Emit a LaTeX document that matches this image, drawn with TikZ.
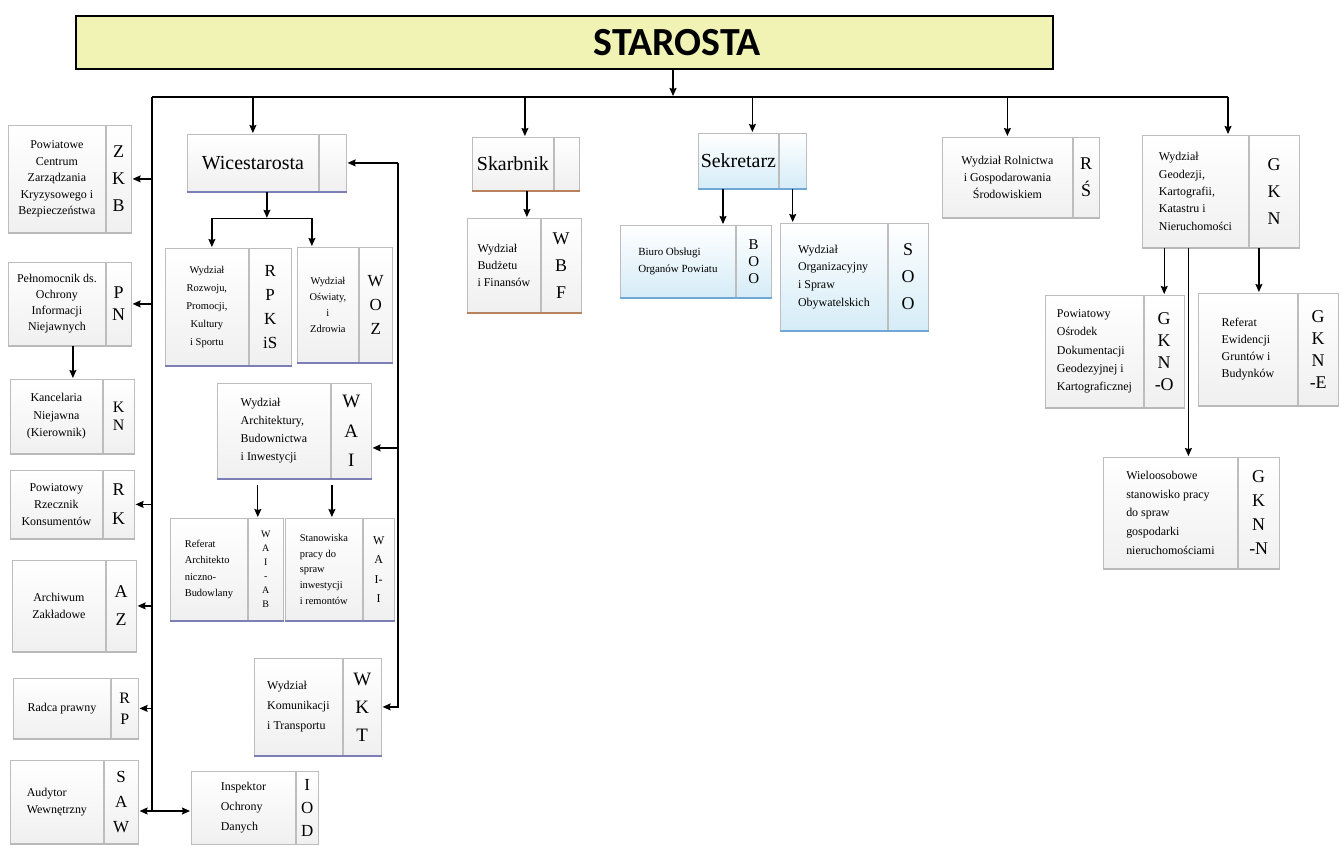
\documentclass[tikz,border=0pt]{standalone}
\usepackage{fontspec}
\setmainfont{Liberation Serif}
\newfontfamily\headfont{Carlito}
\usetikzlibrary{arrows.meta,calc}
\definecolor{starFill}{HTML}{F1F3B4}
\definecolor{lavEdge}{HTML}{7B7FB5}
\definecolor{brnEdge}{HTML}{B8825C}
\definecolor{skyEdge}{HTML}{6FA8D6}
\definecolor{skyFill}{HTML}{D5ECF7}
\definecolor{boxLine}{HTML}{BDBDBD}
% name, top-left, text width, code width, height, text, code, text style, code style
\newcommand{\obox}[9]{%
\node[ubox, anchor=north west, minimum width=#3bp, minimum height=#5bp, #8] (#1) at (#2) {#6};%
\node[ubox, anchor=north west, minimum width=#4bp, minimum height=#5bp, align=center, #9] (#1-a) at (#1.north east) {#7};%
}

\begin{document}
\begin{tikzpicture}[x=1bp, y=-1bp,
  fs/.style args={#1/#2}{font=\fontsize{#1}{#2}\selectfont},
  ubox/.style={draw=boxLine, line width=0.8bp, top color=white, bottom color=gray!12, inner sep=2bp, text=black},
  edgeln/.style={append after command={(\tikzlastnode.south west) edge[draw=#1, line width=1.8bp] (\tikzlastnode.south east)}},
  neu/.style={edgeln=gray!55},
  lav/.style={edgeln=lavEdge},
  brn/.style={edgeln=brnEdge},
  sky/.style={bottom color=skyFill, edgeln=skyEdge},
  line/.style={line width=1.2bp},
  arr/.style={line, -{Stealth[length=8bp, width=7bp, inset=1bp]}, shorten >=1bp},
  bus/.style={line width=2.2bp}]
\useasboundingbox (0,0) rectangle (1343,845);
\fill[white] (0,0) rectangle (1343,845);

% head
\node[draw=black, line width=1.5bp, fill=starFill, anchor=north west, minimum width=977bp, minimum height=53bp,
  label={[font=\headfont\bfseries\fontsize{40}{44}\selectfont, xshift=113bp]center:STAROSTA}] (starosta) at (75,15) {};

% left column
\obox{zkb}{8,125}{97}{25}{107}{Powiatowe\\Centrum\\Zarządzania\\Kryzysowego i\\Bezpieczeństwa}{Z\\K\\B}{fs=12/16.5, align=center, neu}{fs=18/27, neu}
\obox{pn}{8,262}{97}{25}{83}{Pełnomocnik ds.\\Ochrony\\Informacji\\Niejawnych}{P\\N}{fs=12/16, align=center, neu}{fs=18/22, neu}
\obox{kn}{10,379}{92}{31}{74}{Kancelaria\\Niejawna\\(Kierownik)}{K\\N}{fs=12/17.5, align=center, neu}{fs=16/18, neu}
\obox{rk}{10,470}{92}{31}{68}{Powiatowy\\Rzecznik\\Konsumentów}{R\\K}{fs=12/17, align=center, neu}{fs=18/29, neu}
\obox{az}{12,560}{93}{30}{91}{Archiwum\\Zakładowe}{A\\Z}{fs=12/17, align=center, neu}{fs=18/28, neu}
\obox{rp}{13,678}{97}{27}{60}{Radca prawny}{R\\P}{fs=12/17, align=center, neu}{fs=16/21, neu}
\obox{saw}{10,760}{93}{34}{83}{Audytor\\Wewnętrzny}{S\\A\\W}{fs=12/17, align=left, neu}{fs=17/25, neu}
\obox{iod}{191,771}{104}{22}{73}{Inspektor\\Ochrony\\Danych}{I\\O\\D}{fs=12/20, align=left}{fs=17/23}

% Wicestarosta
\obox{wice}{187,134}{131}{27}{57}{Wicestarosta}{}{fs=20/24, lav}{lav}
\obox{rpk}{165,248}{83}{42}{117}{Wydział\\Rozwoju,\\Promocji,\\Kultury\\i Sportu}{R\\P\\K\\iS}{fs=10.5/18, align=center, lav}{fs=17/24, lav}
\obox{woz}{297,247}{61}{33}{115}{Wydział\\Oświaty,\\i\\Zdrowia}{W\\O\\Z}{fs=10.5/16, align=center, lav}{fs=17/24, lav}
\obox{wai}{217,383}{113}{40}{95}{Wydział\\Architektury,\\Budownictwa\\i Inwestycji}{W\\A\\I}{fs=12/18, align=left, lav}{fs=19/30, lav}
\obox{waiab}{170,518}{77}{35}{102}{Referat\\Architekto\\niczno-\\Budowlany}{W\\A\\I\\-\\A\\B}{fs=10.5/16.5, align=left, lav}{fs=10/14, lav}
\obox{waii}{285,518}{77}{31}{102}{Stanowiska\\pracy do\\spraw\\inwestycji\\i remontów}{W\\A\\I-\\I}{fs=10.5/16, align=left, lav}{fs=12/19.5, lav}
\obox{wkt}{254,658}{88}{38}{97}{Wydział\\Komunikacji\\i Transportu}{W\\K\\T}{fs=12/20, align=left, lav}{fs=19/28, lav}

% Skarbnik, Sekretarz
\obox{skarb}{472,137}{81}{25}{53}{Skarbnik}{}{fs=20/24, brn}{brn}
\obox{wbf}{467,218}{73}{40}{94}{Wydział\\Budżetu\\i Finansów}{W\\B\\F}{fs=12/17, align=left, brn}{fs=18/27, brn}
\obox{sek}{698,133}{80}{27}{55}{Sekretarz}{}{fs=20/24, sky}{sky}
\obox{boo}{620,225}{115}{35}{72}{Biuro Obsługi\\Organów Powiatu}{B\\O\\O}{fs=11/17, align=left, sky}{fs=15/17, sky}
\obox{soo}{780,223}{107}{40}{107}{Wydział\\Organizacyjny\\i Spraw\\Obywatelskich}{S\\O\\O}{fs=12/17.7, align=left, sky}{fs=18/27, sky}

% right side
\obox{rol}{942,137}{130}{26}{80}{Wydział Rolnictwa\\i Gospodarowania\\Środowiskiem}{R\\Ś}{fs=12/17, align=center, neu}{fs=18/27, neu}
\obox{gkn}{1142,135}{106}{50}{112}{Wydział\\Geodezji,\\Kartografii,\\Katastru i\\Nieruchomości}{G\\K\\N}{fs=12/17.5, align=left, neu}{fs=18/27, neu}
\obox{gkno}{1045,295}{98}{40}{112}{Powiatowy\\Ośrodek\\Dokumentacji\\Geodezyjnej i\\Kartograficznej}{G\\K\\N\\-O}{fs=12/18.3, align=left, neu}{fs=18/22, neu}
\obox{gkne}{1198,293}{99}{40}{112}{Referat\\Ewidencji\\Gruntów i\\Budynków}{G\\K\\N\\-E}{fs=12/17, align=left, neu}{fs=18/22, neu}
\obox{gknn}{1103,457}{134}{41}{111}{Wieloosobowe\\stanowisko pracy\\do spraw\\gospodarki\\nieruchomościami}{G\\K\\N\\-N}{fs=12/19, align=left, neu}{fs=18/24, neu}

% main bus
\coordinate (bus-w) at (152,97);
\coordinate (bus-e) at (1228,97);
\coordinate (bus-c) at (673,97);
\coordinate (spine-s) at (152,811);
\draw[bus] (bus-w) -- (bus-e);
\draw[arr, bus] (starosta.south -| bus-c) -- (bus-c);
\draw[line] (bus-w) -- (spine-s);

% left spine
\draw[arr] (zkb-a.east -| bus-w) -- (zkb-a.east);
\draw[arr] (pn-a.east -| bus-w) -- (pn-a.east);
\draw[arr] (rk-a.east -| bus-w) -- (rk-a.east);
\draw[arr] (az-a.east -| bus-w) -- (az-a.east);
\draw[arr] (rp-a.east -| bus-w) -- (rp-a.east);
\draw[arr] (spine-s) -- (spine-s -| saw-a.east);
\draw[arr] (spine-s) -- (spine-s -| iod.west);
\coordinate (pn-d) at ($(pn.south)+(16,0)$);
\draw[arr] (pn-d) -- (pn-d |- kn.north);

% drops from bus
\coordinate (skarb-t) at ($(skarb.north)+(12,0)$);
\coordinate (sek-t) at ($(sek.north)+(14,0)$);
\draw[arr] (wice.north |- bus-w) -- (wice.north);
\draw[arr] (skarb-t |- bus-w) -- (skarb-t);
\draw[arr] (sek-t |- bus-w) -- (sek-t);
\draw[arr] (rol.north |- bus-w) -- (rol.north);
\draw[arr] (bus-e) -- (bus-e |- gkn.north);

% Wicestarosta branch
\coordinate (wice-j) at ($(wice.south)+(14,27)$);
\coordinate (rpk-t) at ($(rpk.north)+(5,0)$);
\coordinate (woz-t) at ($(woz.north)+(-16,0)$);
\draw[arr] (wice-j |- wice.south) -- (wice-j);
\draw[arr] (wice-j) -| (rpk-t);
\draw[arr] (wice-j) -| (woz-t);
\coordinate (feed-x) at (398,0);
\coordinate (wai-in) at ($(wai-a.east)+(0,17)$);
\draw[arr] (wice-a.east -| feed-x) -- (wice-a.east);
\draw[arr] (wice-a.east -| feed-x) -- (wkt-a.east -| feed-x) -- (wkt-a.east);
\draw[arr] (wai-in -| feed-x) -- (wai-in);
\coordinate (waiab-t) at ($(waiab-a.north west)+(10,0)$);
\coordinate (waii-t) at ($(waii.north)+(8,0)$);
\draw[arr, shorten <=6bp] (waiab-t |- wai.south) -- (waiab-t);
\draw[arr, shorten <=6bp] (waii-t |- wai.south) -- (waii-t);

% Skarbnik, Sekretarz branches
\coordinate (skarb-d) at ($(skarb.south)+(14,0)$);
\coordinate (sek-d) at ($(sek.south west)+(25,0)$);
\draw[arr] (skarb-d) -- (skarb-d |- wbf.north);
\draw[arr] (sek-d) -- (sek-d |- boo.north);
\draw[arr] (sek-a.south) -- (sek-a.south |- soo.north);

% GKN branches
\coordinate (gkne-t) at ($(gkne.north)+(11,0)$);
\coordinate (gknn-t) at ($(gknn.north)+(18,0)$);
\draw[arr] (gkno-a.north |- gkn.south) -- (gkno-a.north);
\draw[arr] (gkne-t |- gkn.south) -- (gkne-t);
\draw[arr, line width=0.9bp] (gknn-t |- gkn.south) -- (gknn-t);
\end{tikzpicture}
\end{document}
